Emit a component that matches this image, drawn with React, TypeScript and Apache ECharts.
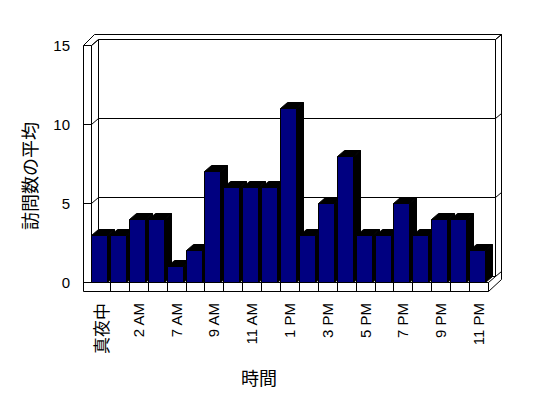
import React, { useEffect, useRef } from "react";
import * as echarts from "echarts";

const categories = [
  "真夜中", "1 AM", "2 AM", "6 AM", "7 AM", "8 AM", "9 AM", "10 AM", "11 AM", "正午",
  "1 PM", "2 PM", "3 PM", "4 PM", "5 PM", "6 PM", "7 PM", "8 PM", "9 PM", "10 PM", "11 PM",
];
const visits = [3, 3, 4, 4, 1, 2, 7, 6, 6, 6, 11, 3, 5, 8, 3, 3, 5, 3, 4, 4, 2];
const yTicks = [0, 5, 10, 15];
const xTitle = "時間";
const yTitle = "訪問数の平均";

const DX = 7;
const DY = -6;
const LATIN = "'Liberation Sans', Arial, 'Noto Sans CJK JP', sans-serif";
const CJK = "'Noto Sans CJK JP', sans-serif";

const px = (v: number) => Math.round(v) + 0.5;

export default function App() {
  const ref = useRef<HTMLDivElement>(null);
  useEffect(() => {
    if (!ref.current) return;
    const chart = echarts.init(ref.current, undefined, { renderer: "svg" });
    const stroke = { stroke: "#000", lineWidth: 1 };
    const ln = (x1: number, y1: number, x2: number, y2: number) => ({
      type: "line",
      shape: { x1: px(x1), y1: px(y1), x2: px(x2), y2: px(y2) },
      style: { ...stroke },
      silent: true,
    });

    const frameRender = (params: any, api: any) => {
      const cs = params.coordSys;
      const L = cs.x;
      const R = cs.x + cs.width;
      const T = cs.y;
      const B = cs.y + cs.height;
      const bw = api.size([1, 0])[0];
      const children: any[] = [];
      children.push({
        type: "polygon",
        shape: {
          points: [
            [px(L - 8), px(B + 9)],
            [px(L - 8), px(T)],
            [px(L + 3), px(T - 11)],
            [px(R + 13), px(T - 11)],
            [px(R + 13), px(B - 3)],
            [px(R), px(B + 9)],
          ],
        },
        style: { fill: "#fff", ...stroke },
        silent: true,
      });
      children.push(ln(L, T, L, B));
      children.push(ln(L, T, L + DX, T + DY));
      children.push(ln(L + DX, T + DY, L + DX, B + DY));
      children.push(ln(R + DX, T + DY, R + DX, B + DY));
      children.push(ln(R + DX, T + DY, R + 13, T - 11));
      children.push(ln(L, B, R, B));
      children.push(ln(R, B, R, B + 9));
      children.push(ln(R, B, R + DX, B + DY));
      for (let k = 1; k < categories.length; k++) {
        children.push(ln(L + k * bw, B, L + k * bw, B + 9));
      }
      yTicks.forEach((v) => {
        const y = api.coord([0, v])[1];
        children.push(ln(L + DX, y + DY, R + DX, y + DY));
        children.push(ln(L, y, L + DX, y + DY));
        children.push(ln(L - 8, y, L, y));
        children.push(ln(R + DX, y + DY, R + 13, y + DY - 5));
      });
      return { type: "group", children };
    };

    const barRender = (params: any, api: any) => {
      const i = api.value(0);
      const v = api.value(1);
      const top = api.coord([i, v]);
      const base = api.coord([i, 0]);
      const bw = api.size([1, 0])[0];
      const x0 = px(top[0] - bw / 2);
      const x1 = px(top[0] - bw / 2 + 16);
      const yt = px(top[1]);
      const yb = px(base[1]);
      return {
        type: "group",
        children: [
          {
            type: "polygon",
            shape: { points: [[x1, yt], [x1 + DX, yt + DY], [x1 + DX, yb + DY], [x1, yb]] },
            style: { fill: "#000", ...stroke },
          },
          {
            type: "polygon",
            shape: { points: [[x0, yt], [x0 + DX, yt + DY], [x1 + DX, yt + DY], [x1, yt]] },
            style: { fill: "#000", ...stroke },
          },
          {
            type: "rect",
            shape: { x: x0, y: yt, width: x1 - x0, height: yb - yt },
            style: { fill: "#000080", ...stroke },
          },
        ],
      };
    };

    chart.setOption({
      animation: false,
      backgroundColor: "#fff",
      grid: { left: 91, top: 45, width: 397, height: 237, containLabel: false },
      xAxis: {
        type: "category",
        data: categories,
        axisLine: { show: false },
        axisTick: { show: false },
        splitLine: { show: false },
        axisLabel: {
          interval: 1,
          rotate: 90,
          margin: 21,
          fontSize: 15,
          color: "#000",
          fontFamily: LATIN,
          formatter: (s: string) => (/[^\x00-\x7f]/.test(s) ? `{c|${s}}` : s),
          rich: { c: { fontSize: 17, fontFamily: CJK, color: "#000" } },
        },
      },
      yAxis: {
        type: "value",
        min: 0,
        max: 15,
        interval: 5,
        axisLine: { show: false },
        axisTick: { show: false },
        splitLine: { show: false },
        axisLabel: { fontSize: 15, margin: 21, color: "#000", fontFamily: LATIN },
      },
      graphic: [
        {
          type: "text",
          x: 259,
          y: 377,
          style: {
            text: xTitle,
            fontSize: 18,
            fontFamily: CJK,
            fill: "#000",
            align: "center",
            verticalAlign: "middle",
          },
        },
        {
          type: "text",
          x: 29,
          y: 176,
          rotation: Math.PI / 2,
          style: {
            text: yTitle,
            fontSize: 18,
            fontFamily: CJK,
            fill: "#000",
            align: "center",
            verticalAlign: "middle",
          },
        },
      ],
      series: [
        {
          type: "custom",
          name: "frame",
          z: 1,
          silent: true,
          data: [[0, 0]],
          encode: { x: 0, y: 1 },
          renderItem: frameRender,
        },
        {
          type: "custom",
          name: "訪問数の平均",
          z: 2,
          data: visits.map((v, i) => [i, v]),
          encode: { x: 0, y: 1 },
          renderItem: barRender,
        },
      ],
    });
    return () => chart.dispose();
  }, []);
  return (
    <div
      ref={ref}
      style={{ position: "fixed", left: 0, top: 0, width: 548, height: 398, background: "#fff" }}
    />
  );
}
